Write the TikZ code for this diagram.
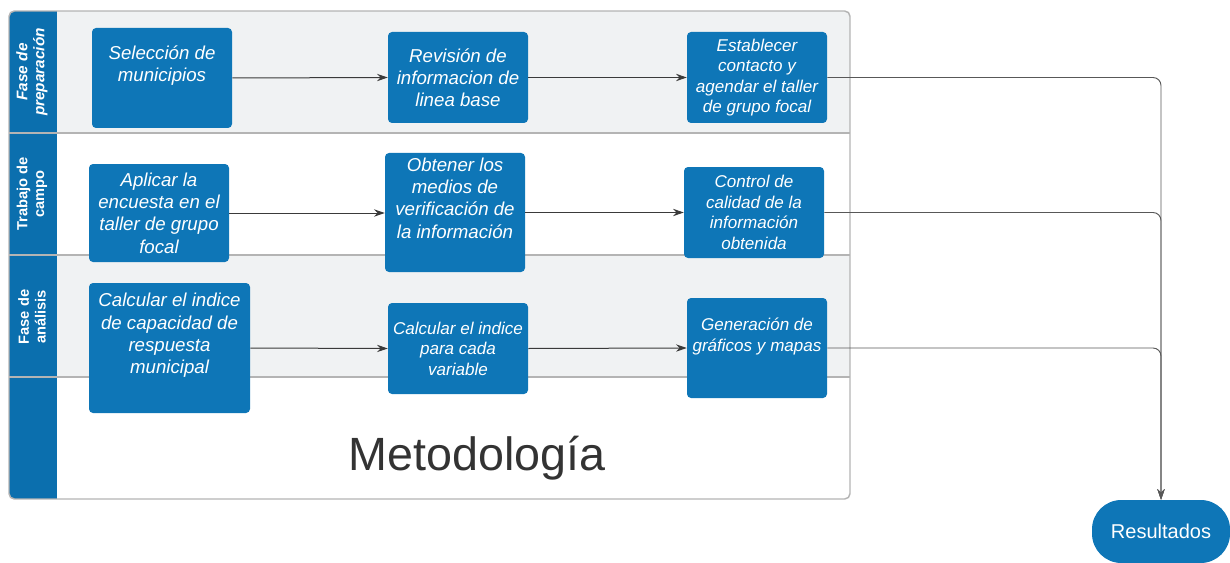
\documentclass[tikz,border=0pt]{standalone}
\usepackage{fontspec}
\setmainfont{Liberation Sans}
\usetikzlibrary{arrows.meta}
\usetikzlibrary{positioning}
\definecolor{boxblue}{HTML}{0E76B7}
\definecolor{bandblue}{HTML}{0B6FAE}
\definecolor{lanegray}{HTML}{F0F2F3}
\definecolor{framegray}{HTML}{B4B4B4}
\definecolor{linegray}{HTML}{3A3A3A}
\definecolor{titlegray}{HTML}{333333}
\tikzset{
  stepbox/.style={fill=boxblue, rounded corners=3pt, text=white, align=center,
    font=\fontsize{14}{16.7}\selectfont\itshape, inner sep=0pt,
    minimum width=105pt, minimum height=68.25pt},
  smallstep/.style={stepbox, font=\fontsize{12.8}{15.4}\selectfont\itshape},
  lanelabel/.style={rotate=90, text=white, align=center,
    font=\fontsize{11}{12.5}\selectfont\bfseries},
  flow/.style={->, draw=linegray, line width=0.75pt},
  toresult/.style={->, draw=linegray!85, line width=0.7pt, rounded corners=6pt},
}
\begin{document}
\begin{tikzpicture}[x=0.75pt, y=-0.75pt, >={Stealth[length=8pt, width=5.5pt]}]
\useasboundingbox (0,0) rectangle (1230,563);
% swimlanes
\begin{scope}
  \clip[rounded corners=4pt] (9,11) rectangle (850,499);
  \fill[lanegray] (9,11) rectangle (850,133);
  \fill[lanegray] (9,255) rectangle (850,377);
  \fill[bandblue] (9,11) rectangle (57,499);
  \foreach \y in {133,255,377}
    \draw[framegray, line width=1.1pt] (9,\y) -- (850,\y);
\end{scope}
\draw[framegray, line width=1.1pt, rounded corners=4pt] (9,11) rectangle (850,499);

\node[lanelabel, font=\fontsize{11.5}{12.8}\selectfont\bfseries\itshape] (lprep) at (32,72) {Fase de\\preparación};
\node[lanelabel] (lcampo) at (32,194) {Trabajo de\\campo};
\node[lanelabel] (lanalisis) at (32,317) {Fase de\\análisis};

% fase de preparacion
\node[stepbox, minimum height=75pt] (sel) at (162,78) {Selección de\\municipios\\ \strut};
\node[stepbox] (rev) at (458,77.5) {Revisión de\\informacion de\\linea base};
\node[smallstep] (est) at (757,77.5) {Establecer\\contacto y\\agendar el taller\\de grupo focal};

% trabajo de campo
\node[stepbox, minimum height=73.5pt] (apl) at (159,213) {Aplicar la\\encuesta en el\\taller de grupo\\focal};
\node[stepbox, minimum height=89.25pt] (obt) at (455,212.5) {Obtener los\\medios de\\verificación de\\la información\\ \strut};
\node[smallstep] (ctl) at (754,212.5) {Control de\\calidad de la\\información\\obtenida};

% fase de analisis
\node[stepbox, minimum width=120.75pt, minimum height=97.5pt] (cap) at (169.5,348) {Calcular el indice\\de capacidad de\\respuesta\\municipal\\ \strut};
\node[smallstep] (var) at (458,348.5) {Calcular el indice\\para cada\\variable};
\node[smallstep, minimum height=75pt] (gra) at (757,348) {Generación de\\gráficos y mapas\\ \strut};

\node[text=titlegray, font=\fontsize{35}{40}\selectfont] (titulo) at (477,458) {Metodología};

\node[fill=boxblue, rounded corners=22pt, text=white, font=\fontsize{15}{18}\selectfont,
  minimum width=103.5pt, minimum height=47.25pt, inner sep=0pt] (res) at (1161,531.5) {Resultados};

\draw[flow] (sel.east) -- (rev.west);
\draw[flow] (rev.east) -- (est.west);
\draw[flow] (apl.east) -- (apl.east -| obt.west);
\draw[flow] (obt.east) -- (ctl.west);
\draw[flow] (cap.east) -- (var.west);
\draw[flow] (var.east) -- (gra.west);

\draw[toresult] (est.east) -| (res.north);
\draw[toresult] (ctl.east) -| (res.north);
\draw[toresult] (gra.east) -| (res.north);
\end{tikzpicture}
\end{document}
